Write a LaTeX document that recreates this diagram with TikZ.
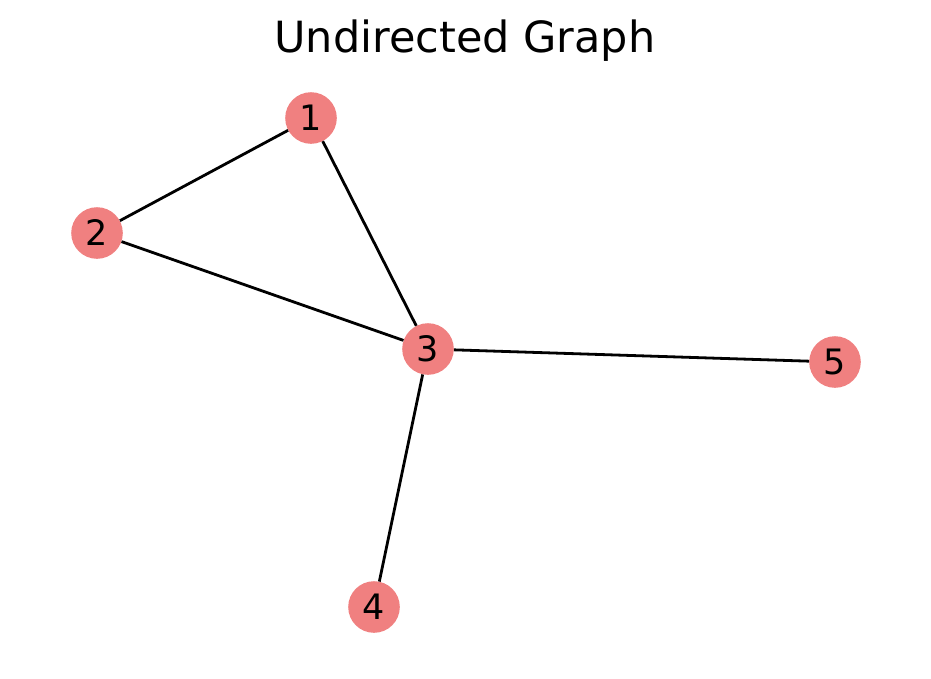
\documentclass[tikz,border=0pt]{standalone}
\usepackage{fontspec}
\setmainfont{DejaVu Sans}
\definecolor{lightcoral}{HTML}{F08080}
\begin{document}
\begin{tikzpicture}[x=1pt,y=-1pt,
  vertex/.style={circle,fill=lightcoral,draw=none,minimum size=51.6pt,inner sep=0pt,
    font=\fontsize{35}{35}\selectfont},
  edge/.style={draw=black,line width=2.8pt}]
  \useasboundingbox (0,0) rectangle (931,678);
  \node[anchor=base,font=\fontsize{43}{43}\selectfont] (title) at (465,52) {Undirected Graph};
  \node[vertex] (n1) at (311,118) {1};
  \node[vertex] (n2) at (97,233) {2};
  \node[vertex] (n3) at (428,349) {3};
  \node[vertex] (n4) at (374,607) {4};
  \node[vertex] (n5) at (835,362) {5};
  \draw[edge] (n1) -- (n2);
  \draw[edge] (n1) -- (n3);
  \draw[edge] (n2) -- (n3);
  \draw[edge] (n3) -- (n5);
  \draw[edge] (n3) -- (n4);
\end{tikzpicture}
\end{document}
